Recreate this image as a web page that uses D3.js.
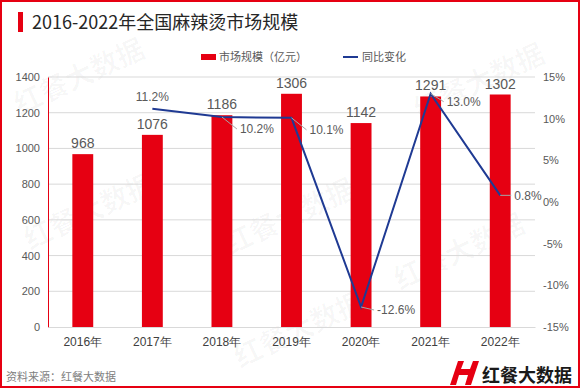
<!DOCTYPE html>
<html>
<head>
<meta charset="utf-8">
<script src="https://cdn.jsdelivr.net/npm/d3@7"></script>
<style>
  body { margin: 0; background: #fff; }
  svg { display: block; font-family: "Noto Sans CJK SC", "Liberation Sans", sans-serif; }
</style>
</head>
<body>
<div id="chart"></div>
<script>
// data
const YEARS = ["2016年", "2017年", "2018年", "2019年", "2020年", "2021年", "2022年"];
const MARKET = [968, 1076, 1186, 1306, 1142, 1291, 1302];
const GROWTH = [null, 11.2, 10.2, 10.1, -12.6, 13.0, 0.8];
const LEFT_TICKS = [0, 200, 400, 600, 800, 1000, 1200, 1400];
const RIGHT_TICKS = [-15, -10, -5, 0, 5, 10, 15];
// where each growth label sits relative to its point [dx, dy, leader]
const GROWTH_LABEL_POS = [null, [0, -12, false], [18, 12, true], [18, 12, true], [16, 3, true], [16, 8, true], [14, 0, true]];

const WIDTH = 580, HEIGHT = 388;
const PLOT = {left: 48, right: 535, top: 77, bottom: 327};
const RED = "#e60012", BLUE = "#1f3a93", TEXT = "#595959";

const svg = d3.select("#chart").append("svg")
              .attr("width", WIDTH)
              .attr("height", HEIGHT);

// outer border
svg.append("rect")
   .attr("x", 1).attr("y", 1)
   .attr("width", WIDTH - 2).attr("height", HEIGHT - 2)
   .attr("fill", "#fff").attr("stroke", RED).attr("stroke-width", 2);

// watermarks (very faint, behind the chart)
const WATERMARKS = [[20, 115], [30, 250], [230, 255], [420, 120], [400, 290], [240, 368]];
svg.append("g").selectAll("text")
   .data(WATERMARKS)
   .enter().append("text")
   .attr("transform", d => "translate(" + d[0] + "," + d[1] + ") rotate(-25)")
   .attr("font-size", 28).attr("font-weight", "bold")
   .attr("fill", "#000").attr("fill-opacity", 0.03)
   .text("红餐大数据");

// title
svg.append("rect").attr("x", 18).attr("y", 12).attr("width", 5).attr("height", 20).attr("fill", RED);
svg.append("text").attr("x", 32).attr("y", 29)
   .attr("font-size", 18).attr("fill", "#262626")
   .text("2016-2022年全国麻辣烫市场规模");

// scales
const X_SCALE = d3.scaleBand().domain(YEARS).range([PLOT.left, PLOT.right]).paddingInner(0.7).paddingOuter(0.35);
const Y_LEFT = d3.scaleLinear().domain([0, 1400]).range([PLOT.bottom, PLOT.top]);
const Y_RIGHT = d3.scaleLinear().domain([-15, 15]).range([PLOT.bottom, PLOT.top]);

// gridlines
svg.append("g").selectAll("line")
   .data(LEFT_TICKS.slice(1))
   .enter().append("line")
   .attr("x1", PLOT.left).attr("x2", PLOT.right)
   .attr("y1", d => Y_LEFT(d)).attr("y2", d => Y_LEFT(d))
   .attr("stroke", "#d9d9d9").attr("stroke-width", 1);

// left axis
const leftAxis = svg.append("g")
   .attr("transform", "translate(" + PLOT.left + ",0)")
   .call(d3.axisLeft(Y_LEFT).tickValues(LEFT_TICKS).tickSize(0).tickPadding(8).tickFormat(d3.format("d")));
leftAxis.select(".domain").attr("stroke", RED);
leftAxis.selectAll("text").attr("fill", TEXT).attr("font-size", 11).attr("font-family", "Liberation Sans, sans-serif");

// right axis
const rightAxis = svg.append("g")
   .attr("transform", "translate(" + PLOT.right + ",0)")
   .call(d3.axisRight(Y_RIGHT).tickValues(RIGHT_TICKS).tickSize(0).tickPadding(8).tickFormat(d => d + "%"));
rightAxis.select(".domain").remove();
rightAxis.selectAll("text").attr("fill", TEXT).attr("font-size", 11).attr("font-family", "Liberation Sans, sans-serif");

// bottom axis
const bottomAxis = svg.append("g")
   .attr("transform", "translate(0," + PLOT.bottom + ")")
   .call(d3.axisBottom(X_SCALE).tickSize(0).tickPadding(10));
bottomAxis.select(".domain").attr("stroke", "#d9d9d9");
bottomAxis.selectAll("text").attr("fill", "#404040").attr("font-size", 12);

// bars
svg.selectAll(".bar")
   .data(MARKET)
   .enter().append("rect")
   .attr("class", "bar")
   .attr("x", (d, i) => X_SCALE(YEARS[i]))
   .attr("y", d => Y_LEFT(d))
   .attr("width", X_SCALE.bandwidth())
   .attr("height", d => PLOT.bottom - Y_LEFT(d))
   .attr("fill", RED);

// bar labels
svg.selectAll(".bar-label")
   .data(MARKET)
   .enter().append("text")
   .attr("x", (d, i) => X_SCALE(YEARS[i]) + X_SCALE.bandwidth() / 2)
   .attr("y", d => Y_LEFT(d) - 6)
   .attr("text-anchor", "middle")
   .attr("font-size", 14).attr("fill", TEXT)
   .attr("font-family", "Liberation Sans, sans-serif")
   .text(d => d);

// growth line
const growthData = GROWTH.map((g, i) => ({year: YEARS[i], g: g, pos: GROWTH_LABEL_POS[i]})).filter(d => d.g !== null);
const cx = d => X_SCALE(d.year) + X_SCALE.bandwidth() / 2;

svg.append("path")
   .datum(growthData)
   .attr("fill", "none")
   .attr("stroke", BLUE).attr("stroke-width", 2)
   .attr("d", d3.line().x(cx).y(d => Y_RIGHT(d.g)));

// growth labels with leaders
growthData.forEach(d => {
  const px = cx(d), py = Y_RIGHT(d.g);
  const [dx, dy, leader] = d.pos;
  if (leader) {
    svg.append("line")
       .attr("x1", px).attr("y1", py)
       .attr("x2", px + dx - 3).attr("y2", py + dy)
       .attr("stroke", "#a6a6a6").attr("stroke-width", 1);
  }
  svg.append("text")
     .attr("x", px + dx).attr("y", py + dy)
     .attr("dy", "0.35em")
     .attr("text-anchor", leader ? "start" : "middle")
     .attr("font-size", 12).attr("fill", TEXT)
     .attr("font-family", "Liberation Sans, sans-serif")
     .text(d.g.toFixed(1) + "%");
});

// legend
svg.append("rect").attr("x", 201).attr("y", 54).attr("width", 15).attr("height", 6).attr("fill", RED);
svg.append("text").attr("x", 219).attr("y", 61).attr("font-size", 11).attr("fill", TEXT).text("市场规模（亿元）");
svg.append("line").attr("x1", 343).attr("x2", 358).attr("y1", 57).attr("y2", 57).attr("stroke", BLUE).attr("stroke-width", 2);
svg.append("text").attr("x", 362).attr("y", 61).attr("font-size", 11).attr("fill", TEXT).text("同比变化");

// footer
svg.append("text").attr("x", 6).attr("y", 381).attr("font-size", 11).attr("fill", "#808080").text("资料来源：红餐大数据");

// logo
const logo = svg.append("g").attr("transform", "translate(450,361)");
logo.append("path")
    .attr("d", "M8,0 L14,0 L11,8 L20,8 L23,0 L29,0 L21,24 L15,24 L18,14 L9,14 L6,24 L0,24 Z")
    .attr("fill", RED);
logo.append("text").attr("x", 32).attr("y", 21).attr("font-size", 18).attr("font-weight", "bold").attr("fill", "#1a1a1a").text("红餐大数据");
</script>
</body>
</html>
